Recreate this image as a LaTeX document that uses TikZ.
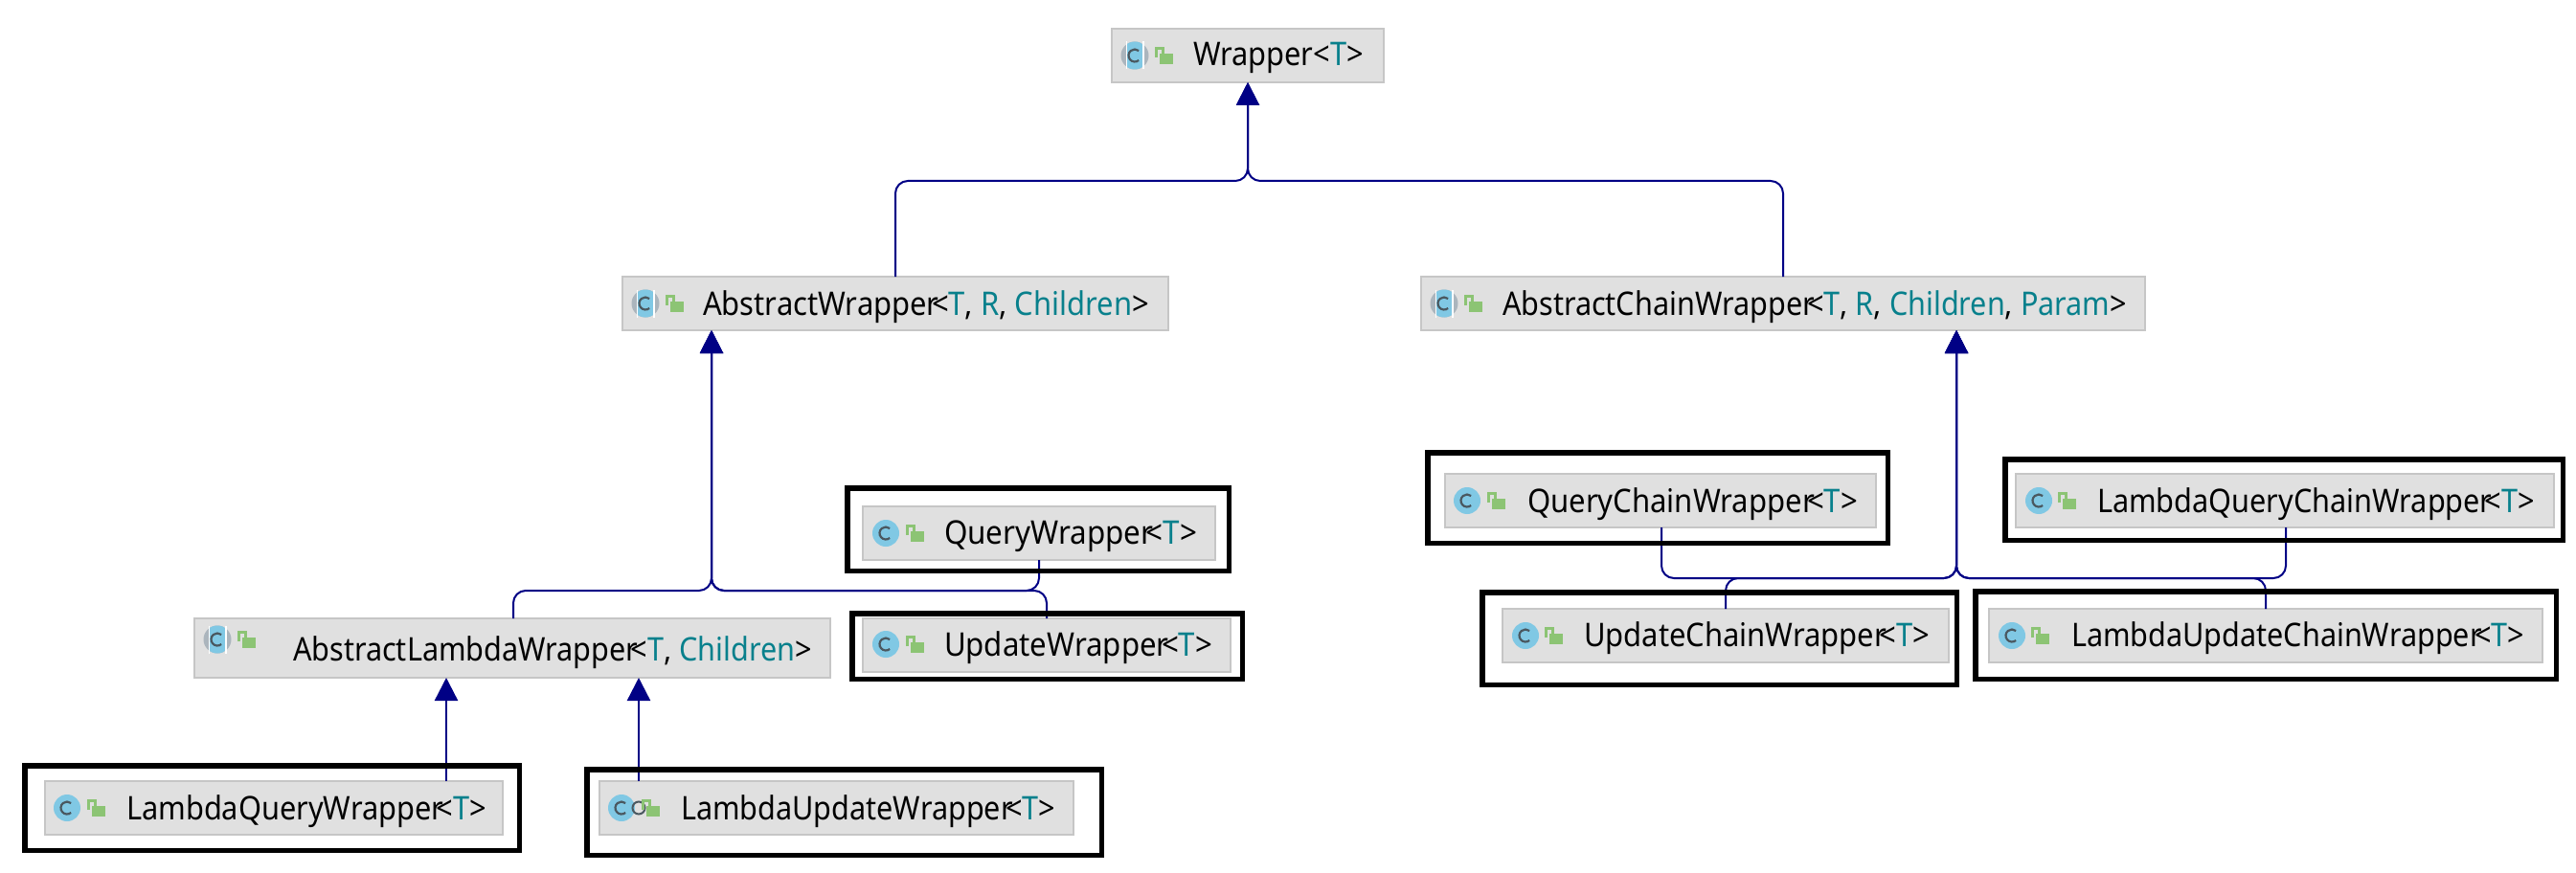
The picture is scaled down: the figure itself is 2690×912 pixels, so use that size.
\documentclass[tikz,border=0pt]{standalone}
\usepackage{fontspec}
\usepackage{graphicx}
\setmainfont{Noto Sans}
\usetikzlibrary{fit,arrows.meta}
\definecolor{conncol}{HTML}{000085}
\definecolor{tparam}{HTML}{08808C}
\definecolor{boxfill}{HTML}{E0E0E0}
\definecolor{boxline}{HTML}{C6C6C6}
\definecolor{iconblue}{HTML}{80C8E4}
\definecolor{icongrey}{HTML}{ABB5BD}
\definecolor{icondark}{HTML}{4A5860}
\definecolor{lockgreen}{HTML}{8CC474}
\tikzset{
  grey box/.style={draw=boxline,fill=boxfill,line width=2pt,inner sep=0pt,outer sep=0pt},
  high box/.style={draw=black,line width=5.5pt,inner sep=0pt,outer sep=0pt},
  label text/.style={anchor=base west,inner sep=0pt,outer sep=0pt,font=\fontsize{34pt}{38pt}\selectfont},
  conn/.style={draw=conncol,line width=2pt,rounded corners=13pt,-{Triangle[width=24pt,length=24pt]}},
  connstraight/.style={draw=conncol,line width=2.4pt,-{Triangle[width=24pt,length=24pt]}},
}
\newcommand\umlbox[5]{\node[grey box,fit={(#2,#3)(#4,#5)}] (#1) {};}
\newcommand\hilite[5]{\node[high box,fit={(#2+2.75,#3+2.75)(#4-2.75,#5-2.75)}] (#1) {};}
\newcommand\umltext[5]{\node[label text] (#1) at (#2,#3) {\resizebox{#4pt}{\height}{#5}};}
\newcommand\tp[1]{\textcolor{tparam}{#1}}
\newcommand\lts{\kern-.25em<}
% class icon: centre x, y
\newcommand\classicon[2]{%
  \fill[iconblue] (#1,#2) circle (14);
  \draw[icondark,line width=2.2pt] (#1,#2) ++(50:6.5) arc (50:310:6.5);
}
\newcommand\abstracticon[2]{%
  \fill[icongrey] (#1,#2) circle (14.5);
  \fill[white] (#1-9.5,#2-14.5) rectangle (#1-8.2,#2+14.5);
  \fill[white] (#1+8.2,#2-14.5) rectangle (#1+9.5,#2+14.5);
  \begin{scope}
    \clip (#1,#2) circle (14.5);
    \fill[iconblue] (#1-8.2,#2-15) rectangle (#1+8.2,#2+15);
  \end{scope}
  \draw[icondark,line width=2.2pt] (#1,#2) ++(50:6.5) arc (50:310:6.5);
}
% lock: body left x, body top y
\newcommand\lockicon[2]{%
  \fill[lockgreen] (#1,#2) rectangle ++(13.5,11);
  \draw[lockgreen,line width=2.2pt] (#1-3.5,#2+4) -- (#1-3.5,#2-5.5) -- (#1+3.5,#2-5.5) -- (#1+3.5,#2);
}
\begin{document}
\begin{tikzpicture}[x=1pt,y=-1pt]
\useasboundingbox (0,0) rectangle (2690,912);
\fill[white] (0,0) rectangle (2690,912);

% grey class boxes
\umlbox{w}{1161}{30}{1445}{86}
\umlbox{aw}{650}{289}{1220}{345}
\umlbox{ac}{1484}{289}{2240}{345}
\umlbox{q}{901}{529}{1269}{585}
\umlbox{u}{901}{646}{1285}{702}
\umlbox{al}{203}{646}{867}{708}
\umlbox{lq}{47}{816}{525}{872}
\umlbox{lu}{626}{816}{1121}{872}
\umlbox{qc}{1509}{495}{1959}{551}
\umlbox{lqc}{2105}{495}{2667}{551}
\umlbox{uc}{1569}{636}{2035}{692}
\umlbox{luc}{2077}{636}{2655}{692}

% connectors
\draw[conn] (aw.north -| 935,0) -- (935,189) -- (1303,189) -- (w.south -| 1303,0);
\draw[conn] (ac.north -| 1862,0) -- (1862,189) -- (1303,189) -- (w.south -| 1303,0);
\draw[conn] (al.north -| 536,0) -- (536,617) -- (743,617) -- (aw.south -| 743,0);
\draw[conn] (q.south -| 1085,0) -- (1085,617) -- (743,617) -- (aw.south -| 743,0);
\draw[conn] (u.north -| 1093,0) -- (1093,617) -- (743,617) -- (aw.south -| 743,0);
\draw[connstraight] (lq.north -| 466,0) -- (al.south -| 466,0);
\draw[connstraight] (lu.north -| 667,0) -- (al.south -| 667,0);
\draw[conn] (qc.south -| 1735,0) -- (1735,604) -- (2043,604) -- (ac.south -| 2043,0);
\draw[conn] (uc.north -| 1802,0) -- (1802,604) -- (2043,604) -- (ac.south -| 2043,0);
\draw[conn] (lqc.south -| 2387,0) -- (2387,604) -- (2043,604) -- (ac.south -| 2043,0);
\draw[conn] (luc.north -| 2366,0) -- (2366,604) -- (2043,604) -- (ac.south -| 2043,0);

% labels
\umltext{wt}{1246}{69}{178}{Wrapper<\tp{T}>}
\umltext{awt}{734}{329}{466}{AbstractWrapper\lts\tp{T}, \tp{R}, \tp{Children}>}
\umltext{act}{1569}{329}{652}{AbstractChainWrapper\lts\tp{T}, \tp{R}, \tp{Children}, \tp{Param}>}
\umltext{qt}{986}{568}{264}{QueryWrapper\lts\tp{T}>}
\umltext{ut}{986}{685}{280}{UpdateWrapper\lts\tp{T}>}
\umltext{alt}{306}{690}{542}{AbstractLambdaWrapper\lts\tp{T}, \tp{Children}>}
\umltext{lqt}{132}{856}{376}{LambdaQueryWrapper\lts\tp{T}>}
\umltext{lut}{711}{856}{391}{LambdaUpdateWrapper\lts\tp{T}>}
\umltext{qct}{1595}{535}{345}{QueryChainWrapper\lts\tp{T}>}
\umltext{lqct}{2190}{535}{457}{LambdaQueryChainWrapper\lts\tp{T}>}
\umltext{uct}{1654}{675}{361}{UpdateChainWrapper\lts\tp{T}>}
\umltext{luct}{2163}{675}{473}{LambdaUpdateChainWrapper\lts\tp{T}>}

% icons
\abstracticon{1185}{58}\lockicon{1211}{56}
\abstracticon{674}{317}\lockicon{700}{315}
\abstracticon{1508}{317}\lockicon{1534}{315}
\abstracticon{227}{668}\lockicon{253}{666}
\classicon{925}{557}\lockicon{951}{555}
\classicon{925}{673}\lockicon{951}{671}
\classicon{70}{844}\lockicon{96}{842}
\classicon{649}{844}\draw[icondark,line width=2pt] (667,844) circle (6.5);\lockicon{675}{842}
\classicon{1532}{523}\lockicon{1558}{521}
\classicon{2129}{523}\lockicon{2154}{521}
\classicon{1593}{664}\lockicon{1618}{662}
\classicon{2101}{664}\lockicon{2126}{662}

% hand-drawn highlight frames
\hilite{hq}{882}{507}{1286}{599}
\hilite{hu}{887}{638}{1300}{712}
\hilite{hlq}{23}{797}{545}{891}
\hilite{hlu}{610}{801}{1153}{896}
\hilite{hqc}{1488}{470}{1974}{570}
\hilite{hlqc}{2091}{477}{2679}{567}
\hilite{huc}{1545}{616}{2046}{718}
\hilite{hluc}{2060}{615}{2672}{712}
\end{tikzpicture}
\end{document}
